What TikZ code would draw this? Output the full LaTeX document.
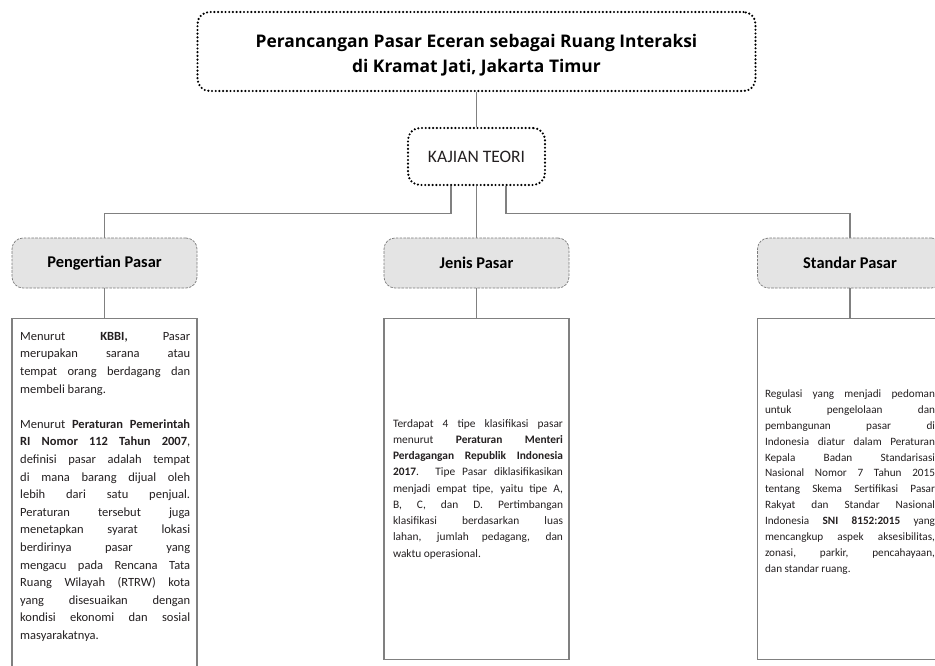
\documentclass[tikz,border=0pt]{standalone}
\usepackage{fontspec}
\setmainfont{Carlito}
\newfontfamily\titlefont{Open Sans}
\usetikzlibrary{calc}
\definecolor{txt}{HTML}{231F20}
\definecolor{ln}{HTML}{808080}
\definecolor{hdfill}{HTML}{E4E4E4}
\definecolor{hdline}{HTML}{7A7A7A}
\begin{document}
\begin{tikzpicture}[x=1pt,y=-1pt,
  conn/.style={draw=ln,line width=1.1pt},
  dotbox/.style={draw=black,line width=2.4pt,dash pattern=on 0pt off 3.7pt,line cap=round,rounded corners=12pt,inner sep=0pt},
  headbox/.style={draw=hdline,line width=0.7pt,dash pattern=on 2.6pt off 1.2pt,fill=hdfill,rounded corners=11pt,
    minimum width=185pt,minimum height=50pt,inner sep=0pt,text=black,font=\bfseries\fontsize{16.4}{18}\selectfont},
  textbox/.style={draw=ln,line width=1.3pt,minimum width=185pt,inner sep=0pt},
  bodytext/.style={text width=170pt,align=justify,inner sep=0pt,text=txt}]
\useasboundingbox (0,0) rectangle (935,666);

% title
\node[dotbox,minimum width=558pt,minimum height=79pt] (title) at (476.5,51.5) {};
\node[align=center,inner sep=0pt,text=black,font=\titlefont\bfseries\fontsize{17.4}{25}\selectfont] (titletext) at (476.5,55)
  {Perancangan Pasar Eceran sebagai Ruang Interaksi\\di Kramat Jati, Jakarta Timur};

% kajian teori
\node[dotbox,minimum width=137pt,minimum height=57pt,text=txt,font=\fontsize{17.5}{19}\selectfont] (kajian) at (476.5,156.5) {KAJIAN TEORI};

% header boxes
\node[headbox] (peng) at (104.5,263) {Pengertian Pasar};
\node[headbox] (jenis) at (476.5,263) {Jenis Pasar};
\node[headbox] (standar) at (850,263) {Standar Pasar};

% text boxes
\node[textbox,minimum height=370pt,anchor=north] (box1) at (104.5,318) {};
\node[textbox,minimum height=341pt,anchor=north] (box2) at (476.5,318) {};
\node[textbox,minimum height=341pt,anchor=north] (box3) at (850,318) {};

% connectors
\draw[conn] (title.south) -- (kajian.north);
\draw[conn] ($(kajian.south)+(-25.5,0)$) -- ++(0,27) -| (peng.north);
\draw[conn] (kajian.south) -- (jenis.north);
\draw[conn] ($(kajian.south)+(29.5,0)$) -- ++(0,27) -| (standar.north);
\draw[conn] (peng.south) -- (box1.north);
\draw[conn] (jenis.south) -- (box2.north);
\draw[conn] (standar.south) -- (box3.north);

% texts
\node[bodytext,anchor=north west,font=\fontsize{12.5}{17.6}\selectfont] (t1) at (20,332) {%
Menurut \textbf{KBBI,} Pasar\linebreak
merupakan sarana atau\linebreak
tempat orang berdagang dan\linebreak
membeli barang.\par\vspace{17.6pt}
Menurut \textbf{Peraturan Pemerintah}\linebreak
\textbf{RI Nomor 112 Tahun 2007},\linebreak
definisi pasar adalah tempat\linebreak
di mana barang dijual oleh\linebreak
lebih dari satu penjual.\linebreak
Peraturan tersebut juga\linebreak
menetapkan syarat lokasi\linebreak
berdirinya pasar yang\linebreak
mengacu pada Rencana Tata\linebreak
Ruang Wilayah (RTRW) kota\linebreak
yang disesuaikan dengan\linebreak
kondisi ekonomi dan sosial\linebreak
masyarakatnya.};

\node[bodytext,anchor=center,font=\fontsize{11.4}{16.25}\selectfont] (t2) at (478,489) {%
Terdapat 4 tipe klasifikasi pasar\linebreak
menurut \textbf{Peraturan Menteri}\linebreak
\textbf{Perdagangan Republik Indonesia}\linebreak
\textbf{2017}. Tipe Pasar diklasifikasikan\linebreak
menjadi empat tipe, yaitu tipe A,\linebreak
B, C, dan D. Pertimbangan\linebreak
klasifikasi berdasarkan luas\linebreak
lahan, jumlah pedagang, dan\linebreak
waktu operasional.};

\node[bodytext,anchor=center,font=\fontsize{11.2}{15.9}\selectfont] (t3) at (850,482) {%
Regulasi yang menjadi pedoman\linebreak
untuk pengelolaan dan\linebreak
pembangunan pasar di\linebreak
Indonesia diatur dalam Peraturan\linebreak
Kepala Badan Standarisasi\linebreak
Nasional Nomor 7 Tahun 2015\linebreak
tentang Skema Sertifikasi Pasar\linebreak
Rakyat dan Standar Nasional\linebreak
Indonesia \textbf{SNI 8152:2015} yang\linebreak
mencangkup aspek aksesibilitas,\linebreak
zonasi, parkir, pencahayaan,\linebreak
dan standar ruang.};
\end{tikzpicture}
\end{document}
